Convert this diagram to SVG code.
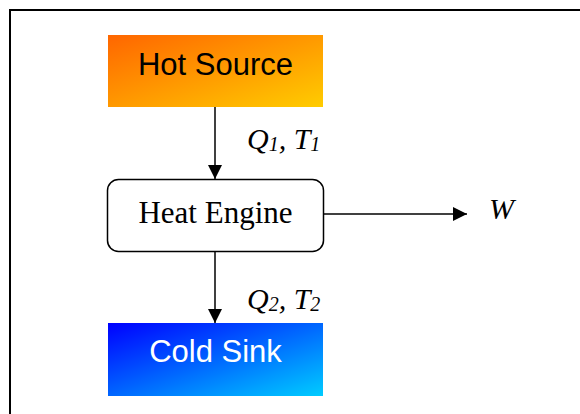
<svg xmlns="http://www.w3.org/2000/svg" width="580" height="414" viewBox="0 0 580 414">
<defs>
<linearGradient id="hot" x1="0" y1="0" x2="1" y2="1">
<stop offset="0" stop-color="#FF6600"/>
<stop offset="1" stop-color="#FFCC00"/>
</linearGradient>
<linearGradient id="cold" x1="0" y1="0" x2="1" y2="1">
<stop offset="0" stop-color="#0000FF"/>
<stop offset="1" stop-color="#00CCFF"/>
</linearGradient>
<marker id="arr" viewBox="0 0 14 14" refX="14" refY="7" markerWidth="14" markerHeight="14" markerUnits="userSpaceOnUse" orient="auto">
<path d="M0,0 L14,7 L0,14 Z" fill="#000"/>
</marker>
<style>
.sans{font-family:"Liberation Sans",Arial,sans-serif;font-size:31px;text-anchor:middle}
.serif{font-family:"Liberation Serif","Times New Roman",serif;font-size:31px;text-anchor:middle}
.lab{font-family:"Liberation Serif","Times New Roman",serif;font-style:italic;font-size:30px}
.sub{font-size:20px}
.conn{stroke:#000;stroke-width:1.5;fill:none;marker-end:url(#arr)}
</style>
</defs>
<rect x="10" y="10" width="580" height="420" fill="#fff" stroke="#000" stroke-width="2"/>
<g id="connectors">
<line class="conn" x1="215" y1="107" x2="215" y2="179"/>
<line class="conn" x1="215" y1="252" x2="215" y2="323"/>
<line class="conn" x1="323" y1="214" x2="467" y2="214"/>
</g>
<g id="hot-source">
<rect x="108" y="35" width="215" height="72" fill="url(#hot)"/>
<text class="sans" x="215.5" y="75">Hot Source</text>
</g>
<g id="heat-engine">
<rect x="107.5" y="179.5" width="216" height="72" rx="11" fill="#fff" stroke="#000" stroke-width="1.5"/>
<text class="serif" x="215.5" y="223">Heat Engine</text>
</g>
<g id="cold-sink">
<rect x="108" y="323" width="215" height="73" fill="url(#cold)"/>
<text class="sans" x="215.5" y="362" fill="#fff">Cold Sink</text>
</g>
<g id="labels">
<text class="lab" x="247" y="149">Q<tspan class="sub" dy="2">1</tspan><tspan dy="-2">, T</tspan><tspan class="sub" dy="2">1</tspan></text>
<text class="lab" x="247" y="309">Q<tspan class="sub" dy="2">2</tspan><tspan dy="-2">, T</tspan><tspan class="sub" dy="2">2</tspan></text>
<text class="lab" x="489" y="219">W</text>
</g>
</svg>
